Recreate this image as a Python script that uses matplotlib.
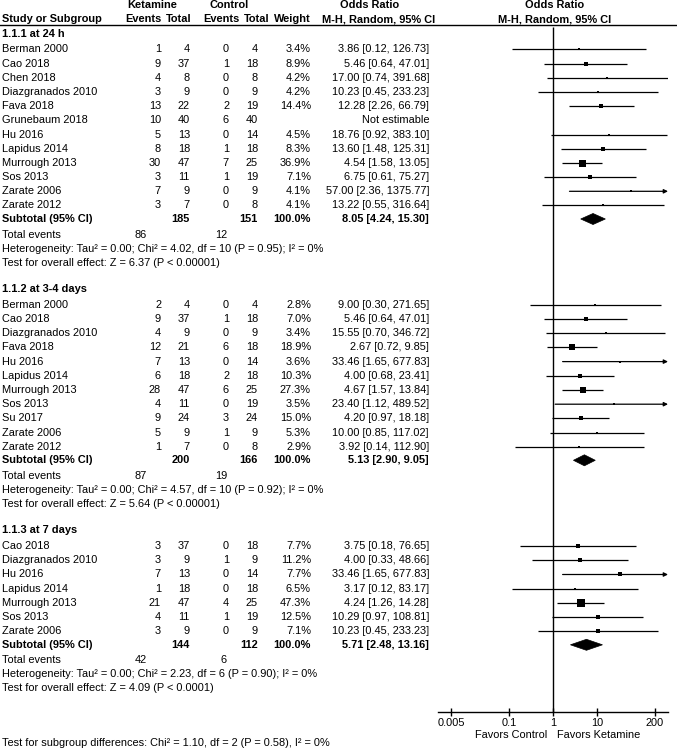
import matplotlib
matplotlib.use("Agg")
import matplotlib.pyplot as plt
import numpy as np
from matplotlib.patches import Polygon

plt.rcParams['font.family'] = ['Liberation Sans', 'DejaVu Sans']

# ---------------- data ----------------
groups = ["1.1.1 at 24 h", "1.1.2 at 3-4 days", "1.1.3 at 7 days"]

studies1 = ["Berman 2000", "Cao 2018", "Chen 2018", "Diazgranados 2010", "Fava 2018", "Grunebaum 2018",
            "Hu 2016", "Lapidus 2014", "Murrough 2013", "Sos 2013", "Zarate 2006", "Zarate 2012"]
ket_ev1 = [1, 9, 4, 3, 13, 10, 5, 8, 30, 3, 7, 3]
ket_tot1 = [4, 37, 8, 9, 22, 40, 13, 18, 47, 11, 9, 7]
ctl_ev1 = [0, 1, 0, 0, 2, 6, 0, 1, 7, 1, 0, 0]
ctl_tot1 = [4, 18, 8, 9, 19, 40, 14, 18, 25, 19, 9, 8]
weight1 = [3.4, 8.9, 4.2, 4.2, 14.4, None, 4.5, 8.3, 36.9, 7.1, 4.1, 4.1]
or1 = [3.86, 5.46, 17.00, 10.23, 12.28, None, 18.76, 13.60, 4.54, 6.75, 57.00, 13.22]
lo1 = [0.12, 0.64, 0.74, 0.45, 2.26, None, 0.92, 1.48, 1.58, 0.61, 2.36, 0.55]
hi1 = [126.73, 47.01, 391.68, 233.23, 66.79, None, 383.10, 125.31, 13.05, 75.27, 1375.77, 316.64]

studies2 = ["Berman 2000", "Cao 2018", "Diazgranados 2010", "Fava 2018", "Hu 2016", "Lapidus 2014",
            "Murrough 2013", "Sos 2013", "Su 2017", "Zarate 2006", "Zarate 2012"]
ket_ev2 = [2, 9, 4, 12, 7, 6, 28, 4, 9, 5, 1]
ket_tot2 = [4, 37, 9, 21, 13, 18, 47, 11, 24, 9, 7]
ctl_ev2 = [0, 1, 0, 6, 0, 2, 6, 0, 3, 1, 0]
ctl_tot2 = [4, 18, 9, 18, 14, 18, 25, 19, 24, 9, 8]
weight2 = [2.8, 7.0, 3.4, 18.9, 3.6, 10.3, 27.3, 3.5, 15.0, 5.3, 2.9]
or2 = [9.00, 5.46, 15.55, 2.67, 33.46, 4.00, 4.67, 23.40, 4.20, 10.00, 3.92]
lo2 = [0.30, 0.64, 0.70, 0.72, 1.65, 0.68, 1.57, 1.12, 0.97, 0.85, 0.14]
hi2 = [271.65, 47.01, 346.72, 9.85, 677.83, 23.41, 13.84, 489.52, 18.18, 117.02, 112.90]

studies3 = ["Cao 2018", "Diazgranados 2010", "Hu 2016", "Lapidus 2014", "Murrough 2013", "Sos 2013",
            "Zarate 2006"]
ket_ev3 = [3, 3, 7, 1, 21, 4, 3]
ket_tot3 = [37, 9, 13, 18, 47, 11, 9]
ctl_ev3 = [0, 1, 0, 0, 4, 1, 0]
ctl_tot3 = [18, 9, 14, 18, 25, 19, 9]
weight3 = [7.7, 11.2, 7.7, 6.5, 47.3, 12.5, 7.1]
or3 = [3.75, 4.00, 33.46, 3.17, 4.24, 10.29, 10.23]
lo3 = [0.18, 0.33, 1.65, 0.12, 1.26, 0.97, 0.45]
hi3 = [76.65, 48.66, 677.83, 83.17, 14.28, 108.81, 233.23]

sub_ket_tot = [185, 200, 144]
sub_ctl_tot = [151, 166, 112]
sub_or = [8.05, 5.13, 5.71]
sub_lo = [4.24, 2.90, 2.48]
sub_hi = [15.30, 9.05, 13.16]
tot_ev_ket = [86, 87, 42]
tot_ev_ctl = [12, 19, 6]
het_text = ["Heterogeneity: Tau\u00b2 = 0.00; Chi\u00b2 = 4.02, df = 10 (P = 0.95); I\u00b2 = 0%",
            "Heterogeneity: Tau\u00b2 = 0.00; Chi\u00b2 = 4.57, df = 10 (P = 0.92); I\u00b2 = 0%",
            "Heterogeneity: Tau\u00b2 = 0.00; Chi\u00b2 = 2.23, df = 6 (P = 0.90); I\u00b2 = 0%"]
effect_text = ["Test for overall effect: Z = 6.37 (P < 0.00001)",
               "Test for overall effect: Z = 5.64 (P < 0.00001)",
               "Test for overall effect: Z = 4.09 (P < 0.0001)"]
subgroup_diff = "Test for subgroup differences: Chi\u00b2 = 1.10, df = 2 (P = 0.58), I\u00b2 = 0%"

tick_vals = [0.005, 0.1, 1, 10, 200]
tick_labels = ["0.005", "0.1", "1", "10", "200"]
xlim = (0.0025, 400)

group_data = [
    (studies1, ket_ev1, ket_tot1, ctl_ev1, ctl_tot1, weight1, or1, lo1, hi1),
    (studies2, ket_ev2, ket_tot2, ctl_ev2, ctl_tot2, weight2, or2, lo2, hi2),
    (studies3, ket_ev3, ket_tot3, ctl_ev3, ctl_tot3, weight3, or3, lo3, hi3),
]

# ---------------- layout ----------------
W, H = 677, 748
FS = 7.9
fig = plt.figure(figsize=(W / 100, H / 100), dpi=100)
ax = fig.add_axes([0, 0, 1, 1])
ax.set_xlim(0, W)
ax.set_ylim(H, 0)
ax.axis('off')

AX_L, AX_R, AX_T, AX_B = 438, 668, 24, 712
fax = fig.add_axes([AX_L / W, (H - AX_B) / H, (AX_R - AX_L) / W, (AX_B - AX_T) / H])
fax.set_xscale('log')
fax.set_xlim(*xlim)
fax.set_ylim(AX_B, AX_T)
fax.patch.set_alpha(0)
for s in ['top', 'left', 'right']:
    fax.spines[s].set_visible(False)
fax.spines['bottom'].set_linewidth(1.0)
fax.set_yticks([])
fax.set_xticks(tick_vals)
fax.set_xticklabels(tick_labels, fontsize=FS)
fax.minorticks_off()
fax.tick_params(axis='x', direction='inout', length=6, width=1.0, pad=1.0)

fax.vlines(1, AX_B, 27, color='black', lw=1.0)

X_NAME = 2
X_KE, X_KT, X_CE, X_CT, X_W, X_OR = 161, 190, 229, 258, 311, 429


def t(x, y, s, ha='left', bold=False, size=FS):
    ax.text(x, y, s, ha=ha, va='center', fontsize=size,
            fontweight='bold' if bold else 'normal', color='black')


# headers
t(152, 5, "Ketamine", ha='center', bold=True)
t(229, 5, "Control", ha='center', bold=True)
t(370, 5, "Odds Ratio", ha='center', bold=True)
t(555, 5, "Odds Ratio", ha='center', bold=True)
t(X_NAME, 19, "Study or Subgroup", bold=True)
t(162, 19, "Events", ha='right', bold=True)
t(166, 19, "Total", ha='left', bold=True)
t(239, 19, "Events", ha='right', bold=True)
t(244, 19, "Total", ha='left', bold=True)
t(311, 19, "Weight", ha='right', bold=True)
t(379, 19, "M-H, Random, 95% CI", ha='center', bold=True)
t(555, 19, "M-H, Random, 95% CI", ha='center', bold=True)
ax.plot([0, W], [24.5, 24.5], color='black', lw=1.0)

STEP = 14.2
y = 33.5
for gi, g in enumerate(groups):
    studies, kev, ktot, cev, ctot, wts, ors, los, his = group_data[gi]
    t(X_NAME, y, g, bold=True)
    y += 15.8
    for i, name in enumerate(studies):
        t(X_NAME, y, name)
        t(X_KE, y, str(kev[i]), ha='right')
        t(X_KT, y, str(ktot[i]), ha='right')
        t(X_CE, y, str(cev[i]), ha='right')
        t(X_CT, y, str(ctot[i]), ha='right')
        if ors[i] is None:
            t(X_OR, y, "Not estimable", ha='right')
        else:
            t(X_W, y, f"{wts[i]:.1f}%", ha='right')
            t(X_OR, y, f"{ors[i]:.2f} [{los[i]:.2f}, {his[i]:.2f}]", ha='right')
            if his[i] > xlim[1]:
                fax.annotate('', xy=(xlim[1], y), xytext=(los[i], y),
                             arrowprops=dict(arrowstyle='-|>', lw=0.9, color='black',
                                             mutation_scale=6, shrinkA=0, shrinkB=0),
                             annotation_clip=False)
            else:
                fax.plot([los[i], his[i]], [y, y], color='black', lw=0.9, solid_capstyle='butt')
            side_px = max(2.0, 7.0 * np.sqrt(wts[i] / 36.9))
            fax.scatter([ors[i]], [y], marker='s', s=(side_px * 0.72) ** 2,
                        color='black', linewidths=0, zorder=3)
        y += STEP
    y -= STEP
    y += 13.5
    # subtotal
    t(X_NAME, y, "Subtotal (95% CI)", bold=True)
    t(X_KT, y, str(sub_ket_tot[gi]), ha='right', bold=True)
    t(X_CT, y, str(sub_ctl_tot[gi]), ha='right', bold=True)
    t(X_W, y, "100.0%", ha='right', bold=True)
    t(X_OR, y, f"{sub_or[gi]:.2f} [{sub_lo[gi]:.2f}, {sub_hi[gi]:.2f}]", ha='right', bold=True)
    dia = Polygon([(sub_lo[gi], y), (sub_or[gi], y - 5.5), (sub_hi[gi], y), (sub_or[gi], y + 5.5)],
                  closed=True, facecolor='black', edgecolor='black', lw=0.5)
    fax.add_patch(dia)
    y += 15.5
    t(X_NAME, y, "Total events")
    t(147, y, str(tot_ev_ket[gi]), ha='right')
    t(227, y, str(tot_ev_ctl[gi]), ha='right')
    y += 14
    t(X_NAME, y, het_text[gi])
    y += 14
    t(X_NAME, y, effect_text[gi])
    y += 26.5

t(547, 735, "Favors Control", ha='right')
t(557, 735, "Favors Ketamine", ha='left')
t(X_NAME, 743, subgroup_diff)

fig.savefig("out.png", dpi=100)
